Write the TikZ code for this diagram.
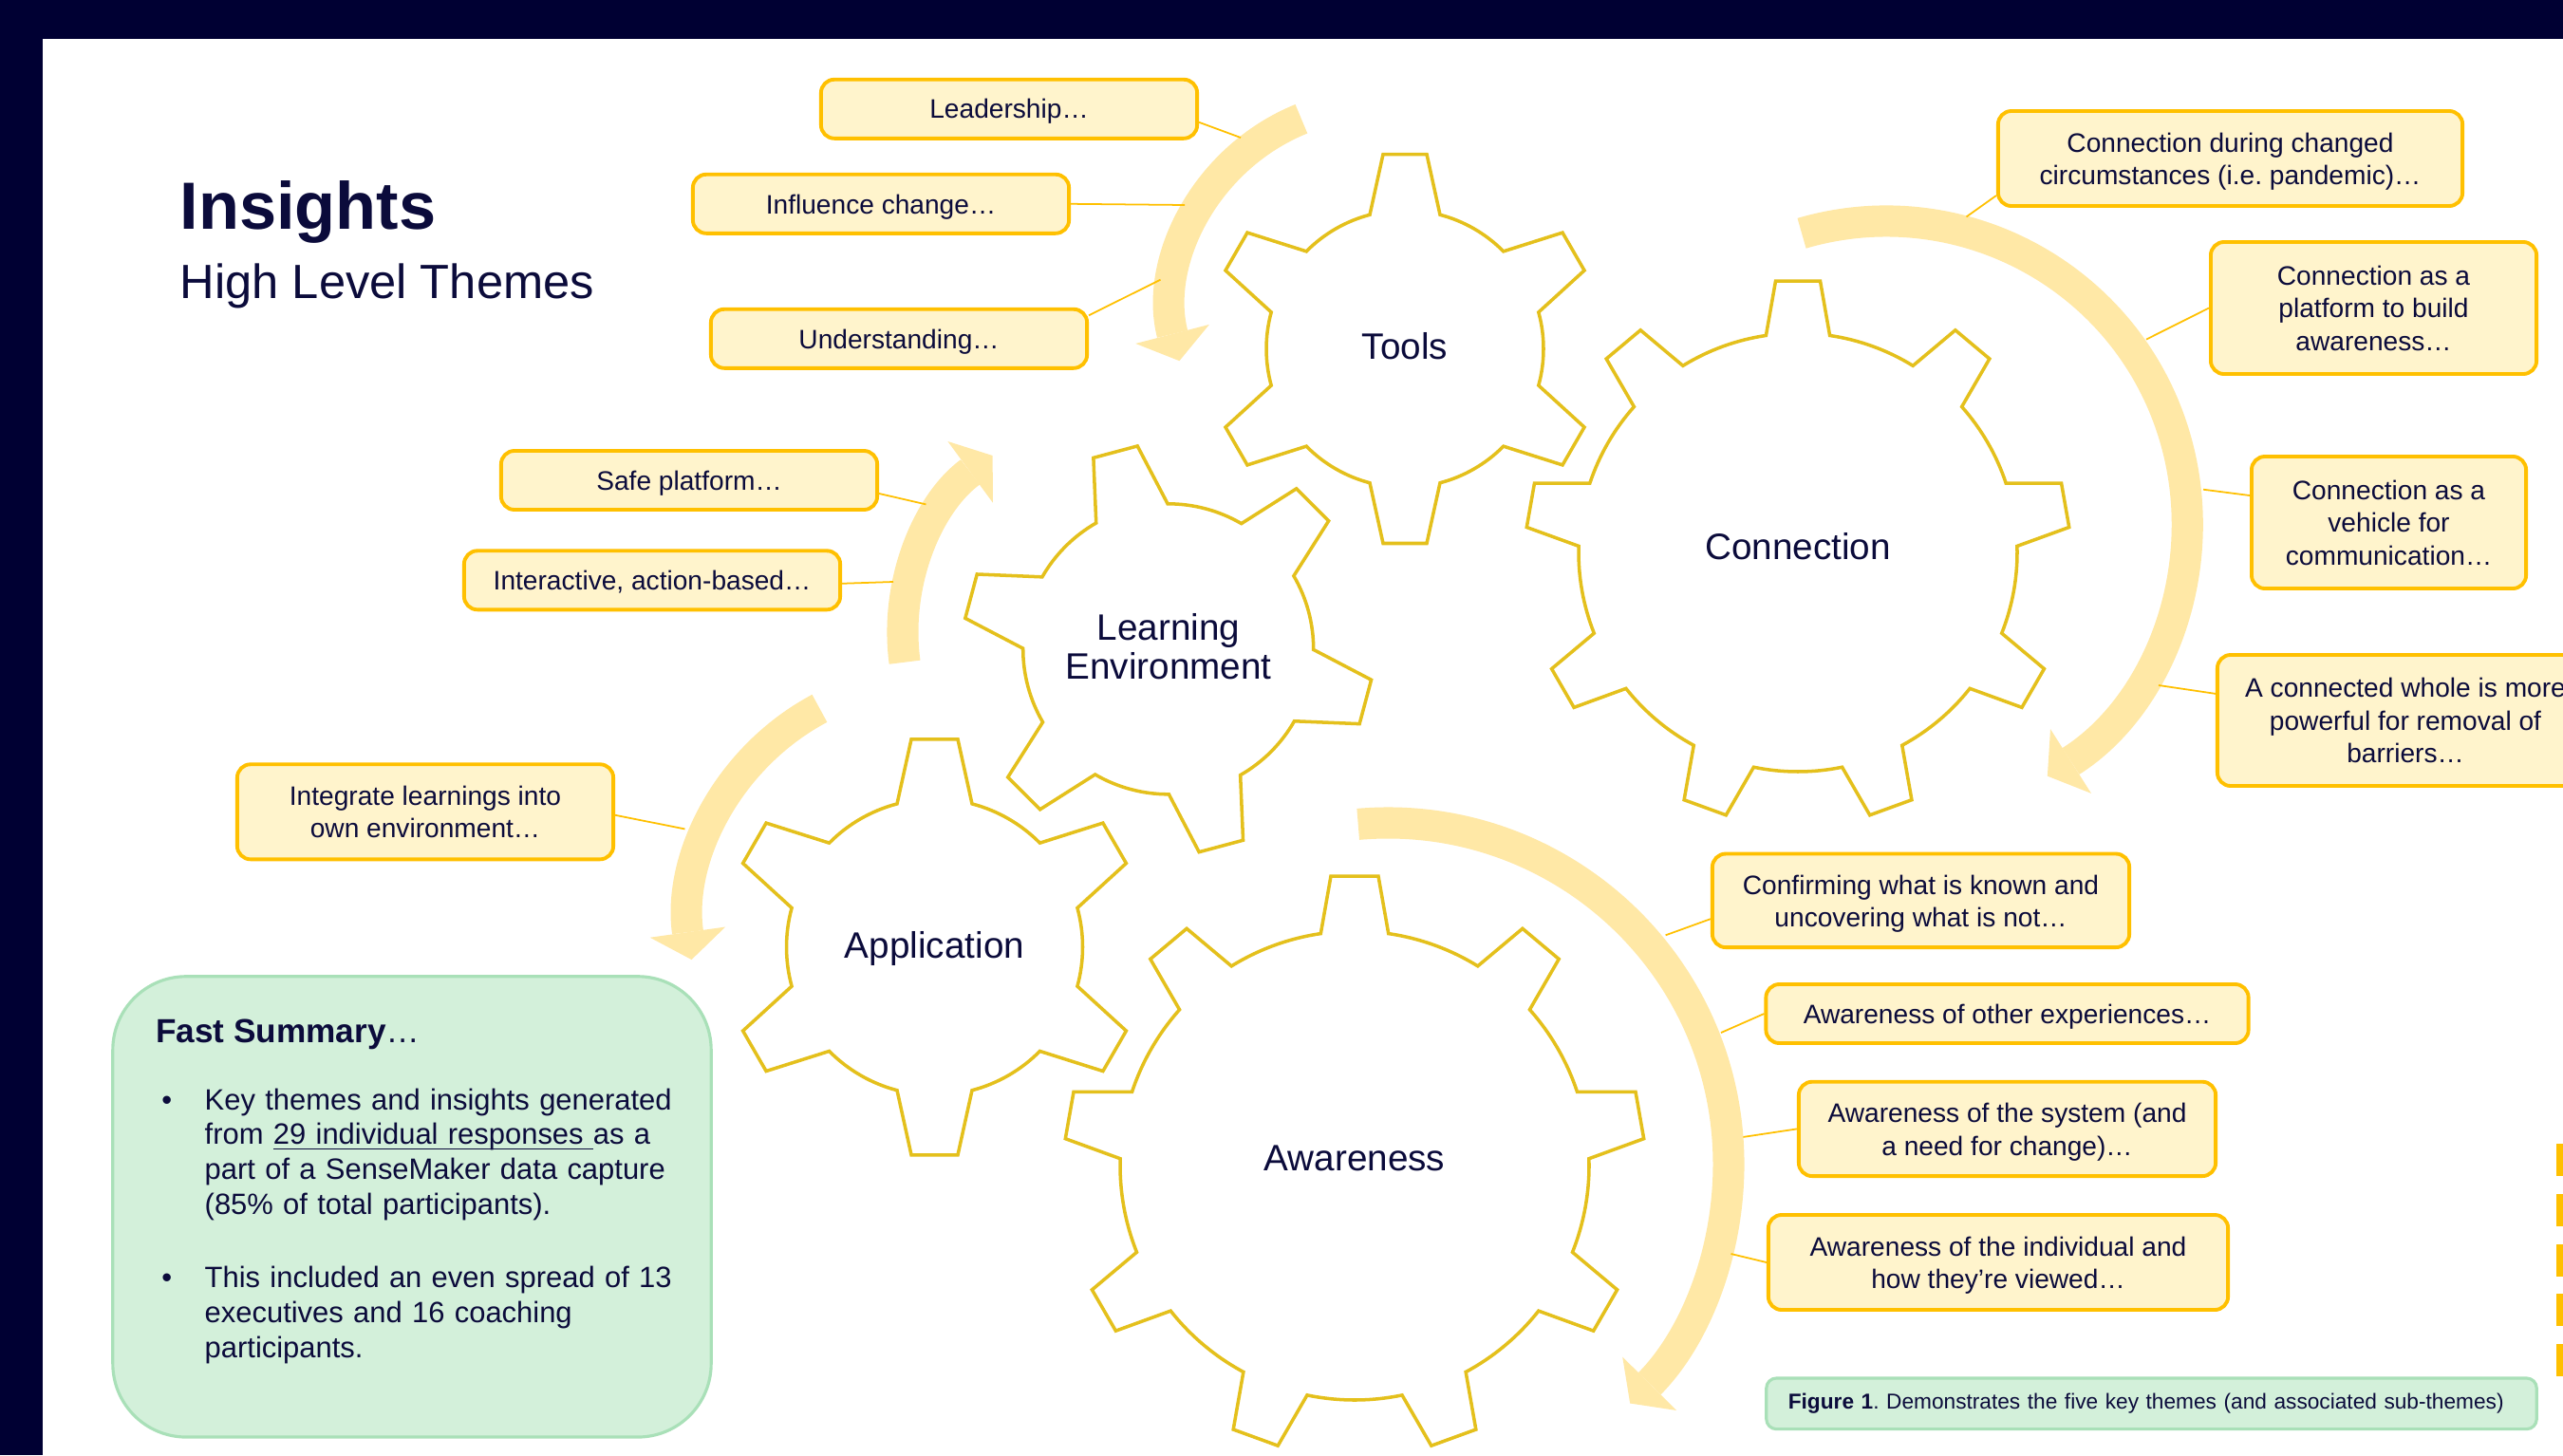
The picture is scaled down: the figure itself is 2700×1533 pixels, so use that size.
\documentclass[tikz,border=0pt]{standalone}
\usepackage{fontspec}
\setmainfont{Liberation Sans}
\usetikzlibrary{arrows.meta}
\definecolor{navy}{HTML}{000033}
\definecolor{ink}{HTML}{0B0B3B}
\definecolor{goldline}{HTML}{FFC000}
\definecolor{goldfill}{HTML}{FFF4CC}
\definecolor{bandfill}{HTML}{FFE8A6}
\definecolor{gearline}{HTML}{E4C01C}
\definecolor{mintfill}{HTML}{D3F0DA}
\definecolor{mintline}{HTML}{A9E0B8}
\tikzstyle{theme} = [rectangle, rounded corners=4pt, draw=goldline, fill=goldfill, line width=1.1pt, text=ink, align=center, inner sep=0pt, font=\fontsize{8}{9.8}\selectfont\frenchspacing]
\tikzstyle{oneline} = [text height=5.8pt, text depth=0pt]
\tikzstyle{cog} = [text=ink, align=center, inner sep=0pt, font=\fontsize{11}{11.8}\selectfont]
\tikzstyle{tie} = [draw=goldline, line width=0.5pt]
\tikzstyle{band} = [draw=bandfill, line width=9.4pt, -{Triangle[length=8.3pt, width=22.8pt, line width=0pt]}]
\tikzstyle{teeth} = [draw=gearline, line width=1pt, line join=miter]
\tikzstyle{summarytext} = [anchor=base west, inner sep=0pt, text=ink, font=\fontsize{8.8}{10.5}\selectfont]
\tikzstyle{edgedash} = [draw=goldline, line width=4pt, dash pattern=on 9.7pt off 5.3pt]
\newcommand{\lift}{\rule{0pt}{7.6pt}}
\newcommand{\undl}[1]{\setbox0\hbox{#1}\rlap{\rule[-1.5pt]{\wd0}{0.45pt}}\box0}
\newcommand{\gear}[7]{%
\pgfmathsetmacro{\gdb}{asin(#7/#5)}%
\pgfmathsetmacro{\gdt}{atan(#6/#4)}%
\pgfmathsetmacro{\grt}{100*veclen(#4/100,#6/100)}%
\pgfmathsetmacro{\gstep}{360/#2}%
\draw [teeth, shift={(#1)}] ({#3-\gdb}:#5)
  \foreach \k in {1,...,#2} {
    -- ({#3+(\k-1)*\gstep-\gdt}:\grt) -- ({#3+(\k-1)*\gstep+\gdt}:\grt)
    -- ({#3+(\k-1)*\gstep+\gdb}:#5)
    arc [start angle={#3+(\k-1)*\gstep+\gdb}, end angle={#3+\k*\gstep-\gdb}, radius=#5]
  } -- cycle;}
\begin{document}
\begin{tikzpicture}[x=0.01cm, y=-0.01cm]
\useasboundingbox (0,0) rectangle (2700,1533);
\clip (0,0) rectangle (2700,1533);
\fill [navy] (0,0) rectangle (2700,1533);
\fill [white] (45,41) rectangle (2700,1533);

\draw [band, shift={(1452,326)}] (248:216.5) arc [start angle=248, end angle=165.5, radius=216.5];
\draw [band, shift={(1183,667)}] (172.4:232) arc [start angle=172.4, end angle=233.7, radius=232];
\draw [band, shift={(985,975)}] (242:259) arc [start angle=242, end angle=172, radius=259];
\draw [band, shift={(1987,550)}] (-106.3:317) arc [start angle=-106.3, end angle=57.6, radius=317];
\draw [band, shift={(1462,1226)}] (-95:359) arc [start angle=-95, end angle=44.7, radius=359];

\node (title) [anchor=base west, inner sep=0pt, text=ink, font=\fontsize{20}{24}\selectfont\bfseries] at (189,241) {Insights};
\node (subtitle) [anchor=base west, inner sep=0pt, text=ink, font=\fontsize{14.4}{17}\selectfont] at (189,314) {High Level Themes};

\node (lead) [theme, oneline, minimum width=3.96cm, minimum height=0.62cm] at (1063,114.8) {Leadership…};
\node (infl) [theme, oneline, minimum width=3.96cm, minimum height=0.62cm] at (928,214.8) {Influence change…};
\node (und) [theme, oneline, minimum width=3.96cm, minimum height=0.62cm] at (947,356.8) {Understanding…};
\node (safe) [theme, oneline, minimum width=3.96cm, minimum height=0.62cm] at (726,506) {Safe platform…};
\node (inter) [theme, oneline, minimum width=3.96cm, minimum height=0.62cm] at (687,611.3) {Interactive, action-based…};
\node (integ) [theme, minimum width=3.96cm, minimum height=1cm] at (448,855.3) {Integrate learnings into\\own environment…};
\node (cdur) [theme, minimum width=4.89cm, minimum height=1cm] at (2349.5,167) {\lift Connection during changed\\circumstances (i.e. pandemic)…};
\node (cplat) [theme, minimum width=3.43cm, minimum height=1.39cm] at (2500.5,324.5) {Connection as a\\platform to build\\awareness…};
\node (cveh) [theme, minimum width=2.89cm, minimum height=1.39cm] at (2516.5,550.5) {Connection as a\\vehicle for\\communication…};
\node (cwhole) [theme, minimum width=3.96cm, minimum height=1.38cm] at (2534,759) {A connected whole is more\\powerful for removal of\\barriers…};
\node (conf) [theme, minimum width=4.39cm, minimum height=0.985cm] at (2023.5,948.8) {\lift Confirming what is known and\\uncovering what is not…};
\node (other) [theme, oneline, minimum width=5.08cm, minimum height=0.62cm] at (2114.5,1068) {Awareness of other experiences…};
\node (sys) [theme, minimum width=4.39cm, minimum height=0.993cm] at (2114.5,1189.4) {\lift Awareness of the system (and\\a need for change)…};
\node (indiv) [theme, minimum width=4.84cm, minimum height=1cm] at (2105,1330) {\lift Awareness of the individual and\\how they’re viewed…};

\coordinate (lead-end) at (1307,145);
\coordinate (infl-end) at (1248,216);
\coordinate (und-end) at (1222.5,294.7);
\coordinate (safe-end) at (975.5,531.4);
\coordinate (inter-end) at (941,613);
\coordinate (integ-end) at (721.5,873.4);
\coordinate (cdur-end) at (2071.5,228.4);
\coordinate (cplat-end) at (2261,357.6);
\coordinate (cveh-end) at (2321,515.7);
\coordinate (cwhole-end) at (2274,722);
\coordinate (conf-end) at (1754.6,985.3);
\coordinate (other-end) at (1813,1088);
\coordinate (sys-end) at (1836.4,1197.9);
\coordinate (indiv-end) at (1823.5,1321);
\draw [tie] (lead.-4) -- (lead-end);
\draw [tie] (infl.east) -- (infl-end);
\draw [tie] (und.7) -- (und-end);
\draw [tie] (safe.-4) -- (safe-end);
\draw [tie] (inter.-1.5) -- (inter-end);
\draw [tie] (integ.-1.6) -- (integ-end);
\draw [tie] (cdur.-171) -- (cdur-end);
\draw [tie] (cplat.west) -- (cplat-end);
\draw [tie] (cveh.169.6) -- (cveh-end);
\draw [tie] (cwhole.172.2) -- (cwhole-end);
\draw [tie] (conf.-175.5) -- (conf-end);
\draw [tie] (other.west) -- (other-end);
\draw [tie] (sys.west) -- (sys-end);
\draw [tie] (indiv.west) -- (indiv-end);

\gear{1480,367.5}{6}{-90}{205}{146}{23}{37}
\gear{1230.7,683.8}{6}{-105}{215}{153}{24}{39}
\gear{984.5,997.8}{6}{-90}{219}{156}{24.5}{39.5}
\gear{1894,582}{9}{-90}{286}{231}{23.5}{33.6}
\gear{1427,1228}{9}{-90}{305}{247}{25}{35.7}
\node (tools) [cog] at (1480,365) {Tools};
\node (learning) [cog] at (1231,681) {Learning\\Environment};
\node (connection) [cog] at (1894,575.5) {Connection};
\node (application) [cog] at (984.5,999.5) {Application};
\node (awareness) [cog] at (1427,1220) {Awareness};

\node (summary) [rectangle, rounded corners=22pt, draw=mintline, fill=mintfill, line width=0.9pt, minimum width=6.3cm, minimum height=4.85cm] at (434,1271.4) {};
\node (fasthead) [anchor=base west, inner sep=0pt, text=ink, font=\fontsize{10}{12}\selectfont] at (163.6,1098) {\textbf{Fast Summary}…};
\node (dot1) [summarytext] at (169.6,1169) {\textbullet};
\node (item1) [summarytext, text width=5.3cm, align=left] at (215,1169) {Key themes and insights generated\\from \undl{29 individual responses\ }as a\\part of a SenseMaker data capture\\(85\% of total participants).};
\node (dot2) [summarytext] at (169.6,1356.6) {\textbullet};
\node (item2) [summarytext, text width=5.3cm, align=left] at (215,1356.6) {This included an even spread of 13\\executives and 16 coaching\\participants.};

\node (caption) [rectangle, rounded corners=3pt, draw=mintline, fill=mintfill, line width=0.9pt, minimum width=8.11cm, minimum height=0.536cm, text width=7.65cm, inner xsep=0.23cm, inner ysep=0pt, align=left, text=ink, font=\fontsize{6.45}{7.8}\selectfont\frenchspacing] at (2266.5,1478.8) {\textbf{Figure 1}. Demonstrates the five key themes (and associated sub-themes)};

\draw [edgedash] (2700,1205) -- (2700,1455);
\end{tikzpicture}
\end{document}
